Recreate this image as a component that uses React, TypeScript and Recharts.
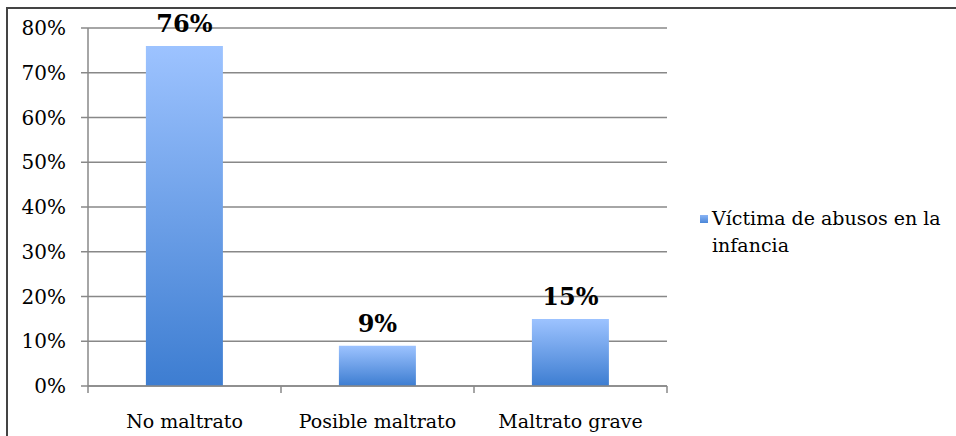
import React from "react"
import { BarChart, Bar, XAxis, YAxis, CartesianGrid, LabelList } from "recharts"

const categories = ["No maltrato", "Posible maltrato", "Maltrato grave"]
const values = [76, 9, 15]
const yTicks = [0, 10, 20, 30, 40, 50, 60, 70, 80]
const seriesName = "Víctima de abusos en la infancia"

const data = categories.map((name, i) => ({ name, value: values[i] }))

const FONT = "'DejaVu Serif', serif"
const W = 956
const H = 436
const margin = { top: 28, right: 289, left: 28, bottom: 20 }
const bandWidth = (W - margin.left - 60 - margin.right) / categories.length

function XTick(props: any) {
  const { x, y, payload, index } = props
  const half = bandWidth / 2
  return (
    <g>
      <line x1={x - half} x2={x - half} y1={y - 8} y2={y - 1} stroke="#888" strokeWidth={1.5} />
      {index === categories.length - 1 && (
        <line x1={x + half} x2={x + half} y1={y - 8} y2={y - 1} stroke="#888" strokeWidth={1.5} />
      )}
      <text x={x} y={y + 34} textAnchor="middle" fontSize={19} fontFamily={FONT} fill="#000">
        {payload.value}
      </text>
    </g>
  )
}

function YTick(props: any) {
  const { x, y, payload } = props
  return (
    <text x={x - 7} y={y + 7} textAnchor="end" fontSize={20} fontFamily={FONT} fill="#000">
      {`${payload.value}%`}
    </text>
  )
}

export default function App() {
  return (
    <div style={{ position: "absolute", left: 0, top: 0, width: W, height: H, overflow: "hidden", background: "#fff" }}>
      <div
        style={{
          position: "absolute",
          left: 6,
          top: 7,
          width: W + 20,
          height: H + 20,
          border: "2px solid #444",
        }}
      />
      <div style={{ position: "absolute", left: 0, top: 0 }}>
        <BarChart width={W} height={H} data={data} margin={margin} barCategoryGap="30%">
          <defs>
            <linearGradient id="barFill" x1="0" y1="0" x2="0" y2="1">
              <stop offset="0%" stopColor="#9dc3ff" />
              <stop offset="100%" stopColor="#3d7dd1" />
            </linearGradient>
          </defs>
          <CartesianGrid vertical={false} stroke="#888" strokeWidth={1.5} />
          <XAxis
            dataKey="name"
            tick={<XTick />}
            tickLine={false}
            axisLine={{ stroke: "#888", strokeWidth: 1.5 }}
            height={30}
            interval={0}
          />
          <YAxis
            domain={[0, 80]}
            ticks={yTicks}
            width={60}
            tick={<YTick />}
            tickSize={7}
            tickMargin={8}
            tickLine={{ stroke: "#888", strokeWidth: 1.5 }}
            axisLine={{ stroke: "#888", strokeWidth: 1.5 }}
          />
          <Bar dataKey="value" name={seriesName} fill="url(#barFill)" isAnimationActive={false}>
            <LabelList
              dataKey="value"
              position="top"
              offset={14}
              formatter={(v: any) => `${v}%`}
              style={{ fontSize: 24, fontWeight: "bold", fontFamily: FONT, fill: "#000" }}
            />
          </Bar>
        </BarChart>
      </div>
      <div
        style={{
          position: "absolute",
          left: 700,
          top: 205,
          width: 256,
          fontFamily: FONT,
          fontSize: 19,
          lineHeight: "27px",
          color: "#000",
          display: "flex",
          alignItems: "flex-start",
        }}
      >
        <span
          style={{
            display: "inline-block",
            width: 8,
            height: 8,
            marginTop: 10,
            marginRight: 4,
            flex: "none",
            background: "linear-gradient(#8ab4f5, #4a86d8)",
          }}
        />
        <span>{seriesName}</span>
      </div>
    </div>
  )
}
